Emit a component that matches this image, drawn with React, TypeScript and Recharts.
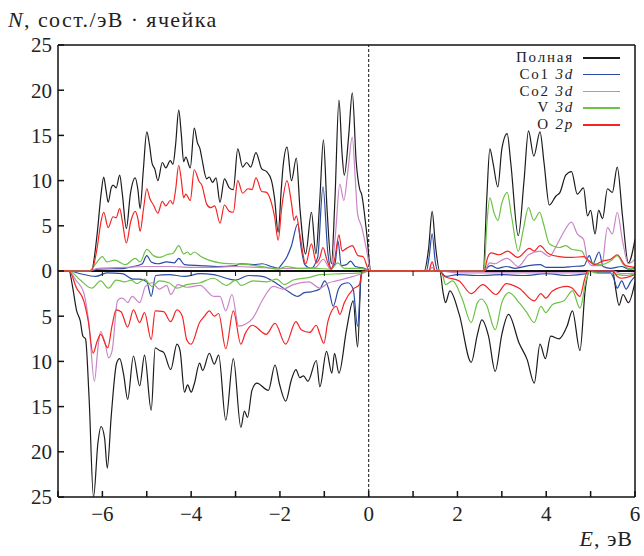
import React from "react"
import { LineChart, Line, XAxis, YAxis, ReferenceLine, ReferenceDot } from "recharts"

type Pt = [number, number]

// энергия (эВ), плотность состояний; спин вверх
const totalUp: Pt[] = [
  [-7, 0], [-6.25, 0], [-6.12, 4], [-6.03, 8.5], [-5.97, 10.4], [-5.92, 9], [-5.87, 7.6], [-5.8, 9.2], [-5.76, 9.5],
  [-5.69, 9.2], [-5.61, 10.6], [-5.55, 8.5], [-5.46, 4.7], [-5.37, 8.5], [-5.26, 10.3], [-5.2, 9], [-5.15, 6.9],
  [-5.08, 11], [-5.0, 15.4], [-4.94, 14], [-4.88, 11.9], [-4.82, 11.3], [-4.75, 10], [-4.65, 12], [-4.57, 11.4],
  [-4.47, 12.2], [-4.41, 11.8], [-4.35, 14], [-4.28, 17.8], [-4.22, 15], [-4.17, 12.1], [-4.12, 12.6], [-4.02, 11.4],
  [-3.93, 15.8], [-3.86, 14.2], [-3.8, 13.5], [-3.76, 12.5], [-3.65, 10.2], [-3.59, 10.4], [-3.52, 9.8], [-3.44, 10.3],
  [-3.35, 7.6], [-3.25, 10.2], [-3.14, 9.2], [-3.05, 9], [-2.95, 13.5], [-2.84, 11.5], [-2.75, 12], [-2.66, 11.5],
  [-2.54, 13.1], [-2.41, 11.3], [-2.3, 11], [-2.19, 10], [-2.12, 8], [-2.04, 4.3], [-1.97, 9], [-1.93, 11.5],
  [-1.84, 13.7], [-1.74, 10], [-1.63, 12.5], [-1.55, 7], [-1.42, 1.9], [-1.29, 6.5], [-1.19, 1.9], [-1.1, 8],
  [-1.02, 14.5], [-0.94, 7], [-0.84, 0.8], [-0.76, 8], [-0.67, 18.9], [-0.6, 13], [-0.55, 10.6], [-0.45, 15],
  [-0.37, 19.7], [-0.28, 12], [-0.2, 9], [-0.16, 8.5], [-0.05, 4.4], [0.05, 0], [1.25, 0], [1.35, 2.5], [1.43, 6.6],
  [1.5, 3], [1.6, 0], [2.58, 0], [2.66, 8], [2.73, 13.5], [2.8, 12], [2.91, 9.3], [3.0, 13.5], [3.12, 15.2],
  [3.2, 12], [3.37, 3.9], [3.5, 10], [3.6, 15.5], [3.72, 12.7], [3.86, 15.4], [3.95, 12], [4.07, 7.3], [4.22, 8.3],
  [4.31, 8.7], [4.44, 10.6], [4.57, 11], [4.7, 8.5], [4.84, 9.2], [4.93, 6.1], [5.0, 6.7], [5.1, 4.1], [5.18, 6.7],
  [5.27, 5.8], [5.38, 9.1], [5.49, 8.7], [5.6, 11.5], [5.72, 6], [5.85, 0.9], [6.0, 3.5],
]

const co1Up: Pt[] = [
  [-7, 0], [-6.3, 0], [-6.1, 0.2], [-5.5, 0.3], [-5.3, 0.5], [-5.1, 0.8], [-5.0, 1.7], [-4.9, 1.0], [-4.75, 0.8],
  [-4.55, 1.0], [-4.38, 0.9], [-4.28, 1.4], [-4.15, 0.7], [-3.8, 0.6], [-3.4, 0.5], [-3.0, 0.6], [-2.9, 0.8],
  [-2.6, 0.7], [-2.4, 0.8], [-2.2, 0.5], [-2.04, 0.3], [-1.95, 0.8], [-1.85, 1.5], [-1.74, 2.8], [-1.6, 5.2],
  [-1.52, 2.5], [-1.44, 0.7], [-1.3, 0.3], [-1.15, 1.5], [-1.03, 9.3], [-0.92, 2], [-0.85, 0.3], [-0.76, 0.8],
  [-0.69, 3.3], [-0.62, 0.6], [-0.5, 0.7], [-0.41, 1.1], [-0.3, 0.5], [-0.1, 0.3], [0.05, 0], [1.3, 0], [1.36, 1.5],
  [1.43, 4.1], [1.5, 1.0], [1.56, 0], [2.6, 0], [2.7, 0.5], [2.76, 0.6], [2.9, 0.3], [3.1, 0.5], [3.3, 0.3],
  [3.6, 0.6], [3.86, 0.7], [4.0, 0.4], [4.3, 0.4], [4.6, 0.5], [4.85, 0.6], [4.97, 1.7], [5.05, 0.8], [5.19, 2.1],
  [5.28, 0.5], [5.45, 0.3], [5.7, 0.5], [5.85, 0.2], [6, 0.3],
]

const co2Up: Pt[] = [
  [-7, 0], [-6.3, 0], [-6.1, 0.3], [-5.5, 0.4], [-5.0, 0.5], [-4.5, 0.5], [-4.0, 0.4], [-3.5, 0.4], [-3.0, 0.5],
  [-2.5, 0.4], [-2.1, 0.3], [-1.8, 0.3], [-1.5, 0.3], [-1.2, 0.4], [-1.02, 1.3], [-0.9, 0.4], [-0.84, 0.2],
  [-0.75, 4], [-0.65, 9.6], [-0.56, 7.8], [-0.47, 11], [-0.37, 14.8], [-0.3, 10], [-0.25, 6.3], [-0.16, 4.9],
  [-0.05, 2.4], [0.05, 0], [1.35, 0], [1.43, 0.4], [1.5, 0], [2.6, 0], [2.73, 0.9], [2.85, 0.8], [3.0, 1.2],
  [3.12, 1.4], [3.37, 0.5], [3.6, 1.8], [3.86, 2.2], [4.07, 1.6], [4.23, 2.8], [4.37, 4.1], [4.57, 5.4], [4.7, 4.1],
  [4.84, 3.5], [4.93, 1.2], [5.04, 0.6], [5.25, 0.6], [5.38, 4.8], [5.49, 4.1], [5.6, 6.5], [5.72, 3.3], [5.85, 0.8],
  [6, 1.3],
]

const vUp: Pt[] = [
  [-7, 0], [-6.3, 0], [-6.15, 0.8], [-6.0, 1.6], [-5.9, 1.0], [-5.72, 1.2], [-5.48, 0.7], [-5.26, 1.4], [-5.15, 1.0],
  [-5.0, 2.4], [-4.85, 1.7], [-4.72, 1.5], [-4.55, 1.8], [-4.4, 2.0], [-4.28, 2.8], [-4.17, 1.9], [-4.08, 2.1],
  [-4.02, 1.8], [-3.93, 2.1], [-3.78, 1.6], [-3.6, 1.2], [-3.35, 0.9], [-3.05, 0.8], [-2.7, 0.7], [-2.3, 0.4],
  [-2.04, 0.2], [-1.85, 0.5], [-1.6, 0.3], [-1.2, 0.3], [-0.85, 0.2], [-0.7, 0.9], [-0.55, 0.3], [-0.2, 0.3],
  [0.05, 0], [2.6, 0], [2.66, 5], [2.73, 8.1], [2.82, 6.5], [2.91, 5.6], [3.0, 7.5], [3.12, 8.7], [3.22, 6],
  [3.37, 2.2], [3.48, 4.5], [3.6, 7.0], [3.72, 5.6], [3.85, 6.5], [3.95, 5], [4.07, 3.0], [4.29, 2.6], [4.44, 2.8],
  [4.57, 2.4], [4.8, 2.2], [4.9, 1.3], [5.0, 1.0], [5.22, 0.7], [5.45, 1.1], [5.6, 1.7], [5.74, 0.7], [5.9, 0.2],
  [6, 0.5],
]

const oUp: Pt[] = [
  [-7, 0], [-6.25, 0], [-6.12, 2.5], [-6.03, 5.5], [-5.97, 6.5], [-5.87, 4.8], [-5.76, 6], [-5.69, 5.9], [-5.61, 6.9],
  [-5.55, 5.5], [-5.46, 3.1], [-5.36, 5.5], [-5.26, 6.6], [-5.2, 5.8], [-5.15, 4.4], [-5.07, 7], [-5.0, 9.1],
  [-4.93, 8], [-4.85, 7.3], [-4.75, 6.4], [-4.65, 7.7], [-4.57, 7.2], [-4.47, 7.8], [-4.41, 7.4], [-4.35, 9],
  [-4.28, 11.7], [-4.22, 10], [-4.17, 8.1], [-4.12, 8.5], [-4.02, 7.8], [-3.93, 11.2], [-3.82, 9.9], [-3.76, 9.5],
  [-3.65, 7.4], [-3.56, 7], [-3.47, 7.2], [-3.35, 5.3], [-3.25, 7.3], [-3.14, 6.6], [-3.05, 6.5], [-2.95, 10],
  [-2.84, 8.6], [-2.72, 9.1], [-2.63, 9], [-2.54, 10.3], [-2.41, 8.8], [-2.3, 8.7], [-2.19, 7.5], [-2.12, 6],
  [-2.04, 3.4], [-1.96, 7], [-1.84, 10], [-1.74, 7.5], [-1.68, 5.6], [-1.63, 6.1], [-1.55, 4], [-1.42, 0.8],
  [-1.29, 3], [-1.18, 0.9], [-1.1, 1.5], [-1.03, 2.6], [-0.94, 1.2], [-0.84, 0.2], [-0.76, 1.5], [-0.67, 4.0],
  [-0.6, 2.2], [-0.5, 2.5], [-0.37, 2.8], [-0.24, 1.7], [-0.13, 1.6], [0.02, 0], [1.35, 0], [1.43, 1.0], [1.5, 0],
  [2.6, 0], [2.68, 1.5], [2.76, 2.0], [2.94, 1.8], [3.13, 2.2], [3.36, 1.5], [3.62, 2.5], [3.73, 2.2], [3.86, 2.8],
  [4.03, 2.0], [4.29, 1.6], [4.59, 1.5], [4.85, 1.6], [4.97, 1.1], [5.08, 0.7], [5.27, 1.1], [5.45, 1.3], [5.6, 1.8],
  [5.79, 0.6], [6, 0.4],
]

// спин вниз (модуль, рисуется вниз)
const totalDown: Pt[] = [
  [-7, 0], [-6.75, 0], [-6.68, 1.5], [-6.58, 4.4], [-6.5, 5.5], [-6.44, 7.2], [-6.38, 7.5], [-6.3, 14], [-6.2, 25],
  [-6.1, 19], [-6.03, 17.2], [-5.95, 18.5], [-5.89, 21.8], [-5.8, 16], [-5.68, 10.2], [-5.61, 9.7], [-5.52, 11.5],
  [-5.43, 14.2], [-5.3, 9.4], [-5.16, 12.7], [-5.05, 9.3], [-4.9, 15.4], [-4.81, 8.5], [-4.71, 8.8], [-4.62, 9],
  [-4.46, 10.9], [-4.32, 8.1], [-4.25, 8.8], [-4.15, 13.4], [-4.08, 12.6], [-4.0, 13.4], [-3.93, 12.5], [-3.81, 10.2],
  [-3.74, 11], [-3.59, 9.1], [-3.48, 10.3], [-3.38, 9.3], [-3.22, 16.5], [-3.05, 9.7], [-2.88, 17.3], [-2.8, 15.5],
  [-2.73, 16.2], [-2.63, 13.2], [-2.52, 12.4], [-2.26, 13.2], [-2.11, 10.4], [-2.01, 12.5], [-1.87, 14.4],
  [-1.74, 12], [-1.64, 10.9], [-1.55, 11.8], [-1.47, 11.6], [-1.37, 12.2], [-1.18, 9.9], [-1.1, 12.8], [-0.95, 8.9],
  [-0.83, 11.3], [-0.77, 9.1], [-0.67, 11.3], [-0.5, 6.5], [-0.35, 3.3], [-0.25, 8.4], [-0.17, 0.5], [-0.1, 0],
  [1.6, 0], [1.68, 2.5], [1.73, 3.5], [1.83, 2.2], [2.04, 4.8], [2.31, 10.1], [2.45, 7], [2.55, 5.4], [2.7, 7.2],
  [2.85, 11.1], [3.0, 7], [3.15, 4.8], [3.39, 8.0], [3.57, 9.8], [3.73, 12.4], [3.86, 8.1], [3.98, 9.7], [4.1, 7.2],
  [4.29, 7.5], [4.47, 6.1], [4.59, 4.4], [4.76, 8.8], [4.88, 2], [4.98, 0], [5.5, 0], [5.55, 1.5], [5.64, 3.8],
  [5.73, 2.6], [5.85, 3.5], [6, 1.2],
]

const co1Down: Pt[] = [
  [-7, 0], [-6.75, 0], [-6.5, 0.3], [-6.15, 0.6], [-5.9, 0.2], [-5.55, 0.3], [-5.3, 0.9], [-5.15, 0.9], [-5.0, 1.2],
  [-4.9, 2.8], [-4.8, 0.5], [-4.5, 0.4], [-4.15, 0.6], [-3.8, 0.3], [-3.5, 0.4], [-3.0, 1.0], [-2.7, 0.5],
  [-2.4, 0.6], [-2.07, 1.4], [-1.8, 2.3], [-1.6, 2.8], [-1.45, 2.4], [-1.3, 2.3], [-1.1, 2.0], [-0.99, 1.1],
  [-0.9, 2], [-0.8, 3.9], [-0.68, 2], [-0.61, 1.5], [-0.47, 1.3], [-0.35, 2], [-0.25, 6.1], [-0.16, 0.2], [0, 0],
  [1.6, 0], [1.73, 0.6], [2.0, 0.4], [2.5, 0.5], [3.0, 0.4], [3.5, 0.5], [4.0, 0.3], [4.5, 0.5], [4.9, 0.3],
  [5.0, 0], [5.2, 0.2], [5.45, 0.2], [5.52, 0.8], [5.6, 1.9], [5.7, 1.1], [5.8, 2.0], [5.9, 1.2], [6, 0.6],
]

const co2Down: Pt[] = [
  [-7, 0], [-6.75, 0], [-6.6, 1], [-6.42, 2.4], [-6.3, 6], [-6.18, 12.2], [-6.1, 8.5], [-6.04, 6.7], [-5.94, 8],
  [-5.86, 9.6], [-5.78, 8.8], [-5.66, 3.3], [-5.58, 3.0], [-5.51, 3.1], [-5.43, 3.5], [-5.33, 2.8], [-5.16, 3.5],
  [-5.03, 1.7], [-4.88, 1.3], [-4.72, 2.0], [-4.55, 1.6], [-4.46, 2.6], [-4.3, 1.5], [-4.1, 1.8], [-3.8, 1.6],
  [-3.49, 2.8], [-3.35, 2.8], [-3.22, 4.4], [-3.08, 2.6], [-2.93, 6.1], [-2.78, 5.9], [-2.61, 5.2], [-2.38, 3.1],
  [-2.15, 1.7], [-1.93, 2.0], [-1.7, 1.5], [-1.35, 1.2], [-1.1, 1.9], [-0.9, 1.3], [-0.73, 1.1], [-0.35, 0.6],
  [-0.1, 0.2], [0, 0], [1.6, 0], [2.0, 0.2], [3, 0.2], [4, 0.2], [4.9, 0.2], [5.0, 0], [5.5, 0], [5.7, 0.3], [6, 0.2],
]

const vDown: Pt[] = [
  [-7, 0], [-6.75, 0], [-6.5, 1.0], [-6.24, 1.9], [-6.04, 1.1], [-5.86, 1.9], [-5.69, 1.0], [-5.5, 1.2], [-5.35, 1.0],
  [-5.22, 1.4], [-5.05, 0.9], [-4.88, 1.7], [-4.72, 1.1], [-4.5, 1.3], [-4.32, 1.9], [-4.1, 1.5], [-3.8, 1.3],
  [-3.5, 0.8], [-3.2, 1.6], [-3.0, 1.0], [-2.88, 1.6], [-2.6, 1.1], [-2.3, 1.2], [-2.07, 0.9], [-1.9, 1.5],
  [-1.7, 1.0], [-1.33, 0.7], [-1.1, 0.4], [-0.6, 0.3], [-0.2, 0.2], [0, 0], [1.6, 0], [1.68, 0.7], [1.73, 1.5],
  [1.89, 1.1], [2.1, 3], [2.31, 5.7], [2.45, 3.5], [2.54, 3.1], [2.65, 3.7], [2.85, 6.5], [3.0, 3.5], [3.16, 2.4],
  [3.39, 3.5], [3.55, 4.5], [3.73, 5.7], [3.88, 3.9], [3.99, 4.6], [4.14, 3.7], [4.4, 3.3], [4.59, 2.2], [4.76, 4.1],
  [4.9, 1.0], [4.98, 0], [5.1, 0.2], [5.5, 0.3], [5.8, 0.5], [6, 0.3],
]

const oDown: Pt[] = [
  [-7, 0], [-6.75, 0], [-6.58, 1.9], [-6.42, 3.3], [-6.32, 5.5], [-6.21, 9.1], [-6.12, 7.8], [-6.04, 7.0],
  [-5.88, 8.5], [-5.78, 6], [-5.69, 4.3], [-5.58, 4.5], [-5.43, 6.2], [-5.3, 4.3], [-5.16, 5.7], [-5.05, 4.6],
  [-4.9, 7.6], [-4.81, 4.4], [-4.62, 4.5], [-4.46, 5.6], [-4.32, 4.3], [-4.2, 5], [-4.1, 7.6], [-4.0, 8.1],
  [-3.81, 5.7], [-3.7, 5], [-3.59, 4.4], [-3.48, 5], [-3.38, 4.7], [-3.22, 8.6], [-3.05, 4.4], [-2.88, 8.1],
  [-2.78, 6.9], [-2.62, 6.0], [-2.31, 7.0], [-2.11, 5.8], [-1.87, 8.1], [-1.64, 5.6], [-1.52, 6.5], [-1.33, 6.8],
  [-1.18, 6], [-1.1, 7], [-1.01, 8.0], [-0.92, 5.6], [-0.73, 3.9], [-0.65, 4.8], [-0.55, 3.5], [-0.35, 2.0],
  [-0.21, 1.5], [-0.14, 0], [1.6, 0], [1.71, 0.6], [2.04, 1.1], [2.31, 2.5], [2.57, 1.5], [2.87, 2.6], [3.1, 1.4],
  [3.39, 1.9], [3.73, 3.3], [3.88, 2.5], [3.99, 3.0], [4.14, 2.2], [4.47, 1.7], [4.59, 1.9], [4.76, 2.8],
  [4.86, 1.0], [4.93, 0], [5.5, 0], [5.6, 0.6], [5.7, 0.8], [6, 0.4],
]

const xTicks = [-7, -6, -5, -4, -3, -2, -1, 0, 1, 2, 3, 4, 5, 6]
const yTicks = [-25, -20, -15, -10, -5, 0, 5, 10, 15, 20, 25]

const series = [
  { name: "Полная", orb: "", color: "#1c1c1c", up: totalUp, down: totalDown },
  { name: "Co1", orb: "3d", color: "#2b4aa6", up: co1Up, down: co1Down },
  { name: "Co2", orb: "3d", color: "#c986c6", up: co2Up, down: co2Down },
  { name: "V", orb: "3d", color: "#6cc244", up: vUp, down: vDown },
  { name: "O", orb: "2p", color: "#f42424", up: oUp, down: oDown },
]

const FONT = "'Liberation Serif', 'Times New Roman', serif"

const toRows = (pts: Pt[], sign: number) => pts.map(([x, y]) => ({ x, y: sign * y }))

const fmtX = (v: number) => (v % 2 === 0 ? (v < 0 ? `\u2212${-v}` : `${v}`) : "")
const fmtY = (v: number) => `${Math.abs(v)}`

// короткие засечки на нулевой линии
const ZeroTick = (props: any) => (
  <line x1={props.cx} x2={props.cx} y1={props.cy} y2={props.cy + 5} stroke="#111" strokeWidth={1} />
)

export default function App() {
  const tickStyle = { fontFamily: FONT, fontSize: 21, fill: "#222" }
  return (
    <div style={{ position: "relative", width: 644, height: 556, fontFamily: FONT, color: "#222" }}>
      <style>{"html,body{margin:0;overflow:hidden}.recharts-surface{overflow:visible}"}</style>
      <LineChart width={644} height={556} margin={{ top: 44, right: 8, bottom: 29, left: 8 }}>
        <XAxis
          dataKey="x"
          type="number"
          domain={[-7, 6]}
          ticks={xTicks}
          tickFormatter={fmtX}
          allowDataOverflow
          tickSize={-6}
          tickMargin={15}
          height={30}
          tick={tickStyle}
          stroke="#111"
          strokeWidth={1.5}
          interval={0}
        />
        <XAxis
          xAxisId="top"
          orientation="top"
          type="number"
          domain={[-7, 6]}
          tick={false}
          tickLine={false}
          height={1}
          stroke="#111"
          strokeWidth={1.5}
        />
        <YAxis
          type="number"
          domain={[-25, 25]}
          ticks={yTicks}
          tickFormatter={fmtY}
          allowDataOverflow
          tickSize={-6}
          tickMargin={12}
          width={50}
          tick={tickStyle}
          stroke="#111"
          strokeWidth={1.5}
          interval={0}
        />
        <YAxis
          yAxisId="r"
          orientation="right"
          type="number"
          domain={[-25, 25]}
          ticks={yTicks}
          tick={false}
          tickSize={-6}
          width={1}
          stroke="#111"
          strokeWidth={1.5}
        />
        <ReferenceLine y={0} stroke="#111" strokeWidth={1.8} />
        <ReferenceLine x={0} stroke="#111" strokeWidth={1} strokeDasharray="3 2" />
        {xTicks.slice(1, -1).map((t) => (
          <ReferenceDot key={"zt" + t} x={t} y={0} r={0} shape={ZeroTick} />
        ))}
        {series.map((s) => [
          <Line
            key={s.name + "up"}
            data={toRows(s.up, 1)}
            dataKey="y"
            type="monotone"
            stroke={s.color}
            strokeWidth={1.2}
            dot={false}
            activeDot={false}
            isAnimationActive={false}
          />,
          <Line
            key={s.name + "down"}
            data={toRows(s.down, -1)}
            dataKey="y"
            type="monotone"
            stroke={s.color}
            strokeWidth={1.2}
            dot={false}
            activeDot={false}
            isAnimationActive={false}
          />,
        ])}
      </LineChart>

      <div
        style={{
          position: "absolute",
          left: 8,
          top: 9,
          fontSize: 22,
          lineHeight: "22px",
          letterSpacing: 1.4,
          whiteSpace: "nowrap",
        }}
      >
        <i>N</i>, сост./эВ · ячейка
      </div>
      <div
        style={{
          position: "absolute",
          right: 11,
          top: 530,
          fontSize: 22,
          lineHeight: "18px",
          letterSpacing: 1,
          whiteSpace: "nowrap",
        }}
      >
        <i>E</i>, эВ
      </div>

      {series.map((s, i) => (
        <React.Fragment key={s.name}>
          <div
            style={{
              position: "absolute",
              left: 400,
              width: 174,
              top: 49 + i * 16.8,
              fontSize: 15,
              lineHeight: "16px",
              height: 16,
              letterSpacing: 1.8,
              textAlign: "right",
              whiteSpace: "nowrap",
            }}
          >
            {s.name}
            {s.orb ? " " : ""}
            {s.orb ? <i>{s.orb}</i> : null}
          </div>
          <div
            style={{
              position: "absolute",
              left: 583,
              width: 37,
              top: 57 + i * 16.8,
              height: 1.5,
              background: s.color,
            }}
          />
        </React.Fragment>
      ))}
    </div>
  )
}
